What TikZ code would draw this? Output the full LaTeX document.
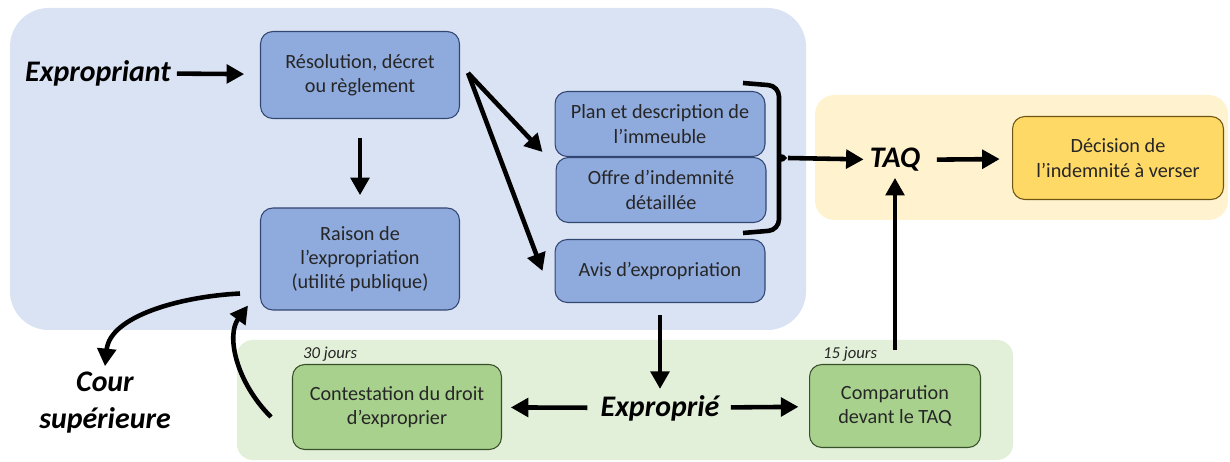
\documentclass[tikz,border=0pt]{standalone}
\usepackage{fontspec}
\setmainfont{Carlito}
\usepackage{tikz}
\usetikzlibrary{arrows.meta,calc}

\definecolor{bgblue}{RGB}{218,227,243}
\definecolor{bgyellow}{RGB}{255,242,206}
\definecolor{bggreen}{RGB}{226,240,217}
\definecolor{boxblue}{RGB}{143,170,220}
\definecolor{lineblue}{RGB}{50,70,115}
\definecolor{boxyellow}{RGB}{255,217,102}
\definecolor{lineyellow}{RGB}{110,85,20}
\definecolor{boxgreen}{RGB}{169,209,142}
\definecolor{linegreen}{RGB}{55,80,40}

\begin{document}
\begin{tikzpicture}[x=0.02cm, y=-0.02cm,
  box/.style={rectangle, rounded corners=7pt, line width=0.6pt, align=center,
    text=black!85, font=\fontsize{11.5}{13.8}\selectfont,
    minimum width=4.2cm, minimum height=1.3cm, inner sep=2pt},
  bluebox/.style={box, draw=lineblue, fill=boxblue},
  yellowbox/.style={box, draw=lineyellow, fill=boxyellow},
  greenbox/.style={box, draw=linegreen, fill=boxgreen},
  actor/.style={font=\fontsize{17}{21}\selectfont\bfseries\itshape, align=center},
  delay/.style={font=\fontsize{9.5}{11}\selectfont\itshape, text=black!85, inner sep=1pt},
  arr/.style={-{Triangle[length=10pt,width=10.5pt]}, line width=2.6pt}]
  \useasboundingbox (0,0) rectangle (1230,462);

  % backgrounds
  \fill[bgblue, rounded corners=22pt] (10,8) rectangle (806,330);
  \fill[bgyellow, rounded corners=11pt] (815,95) rectangle (1228,220);
  \fill[bggreen, rounded corners=9pt] (237,340) rectangle (1013,460);

  % boxes
  \node[bluebox, minimum width=3.98cm, minimum height=1.74cm] (resol) at (360,75) {Résolution, décret\\ou règlement};
  \node[bluebox, minimum width=3.98cm, minimum height=2.04cm] (raison) at (360,259) {Raison de\\l’expropriation\\(utilité publique)};
  \node[bluebox] (plan) at (660,124) {Plan et description de\\l’immeuble};
  \node[bluebox] (offre) at (661,190) {Offre d’indemnité\\détaillée};
  \node[bluebox, minimum height=1.26cm] (avis) at (660,271) {Avis d’expropriation};
  \node[yellowbox, minimum width=4.22cm, minimum height=1.66cm] (decision) at (1118,158) {Décision de\\l’indemnité à verser};
  \node[greenbox, minimum width=4.18cm, minimum height=1.7cm] (contest) at (397,407) {Contestation du droit\\d’exproprier};
  \node[greenbox, minimum width=3.42cm, minimum height=1.66cm] (compar) at (895,406) {Comparution\\devant le TAQ};

  % actors
  \node[actor] (expant) at (98,73) {Expropriant};
  \node[actor] (taq) at (895,160) {TAQ};
  \node[actor] (expie) at (660,408) {Exproprié};
  \node[actor] (cour) at (105,403) {Cour\\supérieure};

  % delays
  \node[delay, anchor=south west] (d30) at ($(contest.north west)+(9,-1)$) {30 jours};
  \node[delay, anchor=south west] (d15) at ($(compar.north west)+(12,-1)$) {15 jours};

  % bracket
  \draw[line width=2.6pt, rounded corners=6pt] (743,83) -- (779,86) -- (779,146)
    .. controls (779,156) .. (790,158) .. controls (779,160) .. (779,170)
    -- (779,230) -- (743,233);
  \coordinate (brk) at (788,158);

  % arrows
  \draw[arr, shorten >=9pt] (expant) -- (resol);
  \draw[arr, shorten <=11pt, shorten >=7pt] (resol) -- (raison);
  \coordinate (fork) at ($(resol.east)+(8,-2)$);
  \draw[arr] (fork) -- ($(plan.south west)+(-12,-5)$);
  \draw[arr] (fork) -- ($(avis.west)+(-12,0)$);
  \draw[arr] (brk) -- (taq);
  \draw[arr, shorten <=6pt, shorten >=7pt] (taq) -- (decision);
  \draw[arr, shorten <=8pt] (compar) -- (taq);
  \draw[arr, shorten <=7pt] (avis) -- (expie);
  \draw[arr, shorten <=4pt, shorten >=5pt] (expie) -- (contest);
  \draw[arr, shorten <=3pt, shorten >=6pt] (expie) -- (compar);
  \draw[arr] ($(raison.south west)+(-20,-17)$) .. controls +(-60,3) and +(5,-50) .. (cour.north);
  \draw[arr] ($(contest.west)+(-21,10)$) .. controls +(-35,-35) and +(-22,30) .. ($(raison.south west)+(-12,-5)$);
\end{tikzpicture}
\end{document}
